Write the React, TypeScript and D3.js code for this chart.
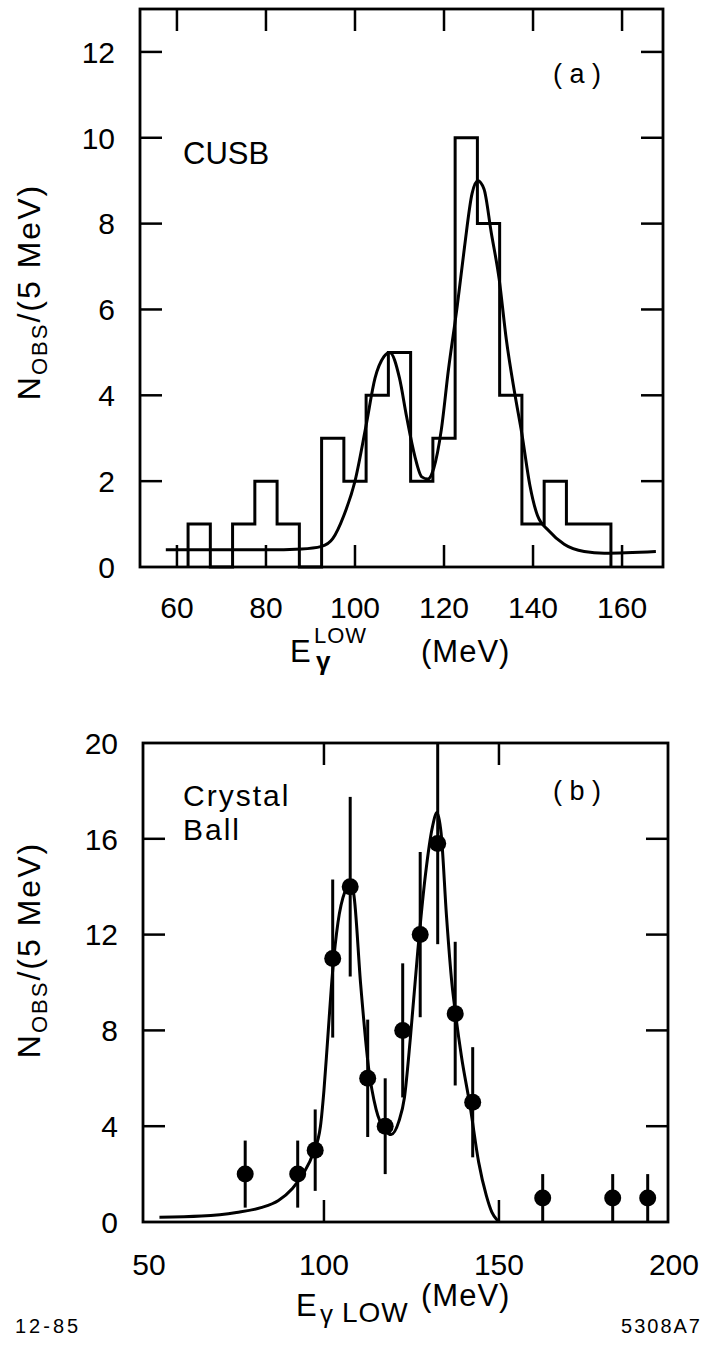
import React, { useRef, useEffect } from "react";
import * as d3 from "d3";

// (a) CUSB histogram, 5 MeV bins
const binCentersA = [65, 70, 75, 80, 85, 90, 95, 100, 105, 110, 115, 120, 125, 130, 135, 140, 145, 150, 155];
const countsA = [1, 0, 1, 2, 1, 0, 3, 2, 4, 5, 2, 3, 10, 8, 4, 1, 2, 1, 1];

// (a) fitted curve
const fitXA = [57.5, 70, 80, 88, 92.5, 95, 97.5, 100, 102.5, 104.5, 106.5, 107.8, 110, 111.6, 113.4, 115, 116.4, 117.7, 119.4, 121, 123, 124.6, 126.3, 127.6, 129, 130.6, 132.4, 134, 135.8, 137.5, 139.3, 141, 143.6, 147, 151.5, 156, 167.6];
const fitYA = [0.4, 0.4, 0.4, 0.42, 0.48, 0.66, 1.2, 2.0, 3.3, 4.4, 4.9, 5.0, 4.4, 3.5, 2.6, 2.1, 2.05, 2.3, 3.2, 4.6, 6.1, 7.45, 8.7, 9.0, 8.8, 7.8, 6.7, 5.3, 4.1, 3.1, 1.9, 1.2, 0.84, 0.53, 0.36, 0.32, 0.36];

const xTicksA = [60, 80, 100, 120, 140, 160];
const yTicksA = [0, 2, 4, 6, 8, 10, 12];

// (b) Crystal Ball points with errors
const ptsXB = [77.5, 92.5, 97.5, 102.5, 107.5, 112.5, 117.5, 122.5, 127.5, 132.5, 137.5, 142.5, 162.5, 182.5, 192.5];
const ptsYB = [2, 2, 3, 11, 14, 6, 4, 8, 12, 15.8, 8.7, 5, 1, 1, 1];
const errB = [1.4, 1.4, 1.7, 3.3, 3.75, 2.45, 2, 2.8, 3.45, 4.2, 3, 2.3, 1, 1, 1];

// (b) fitted curve
const fitXB = [53, 65, 75, 82, 87, 91, 94, 97, 99, 100, 101, 102.5, 104, 106, 107.5, 108.5, 110.5, 112.7, 114.9, 117.6, 119.2, 121.4, 123, 124.7, 126.8, 129, 131, 132.3, 133.5, 135, 136.6, 137.5, 139.3, 141.8, 144.2, 146.4, 148, 149.7, 150];
const fitYB = [0.2, 0.25, 0.4, 0.6, 0.9, 1.4, 2.0, 2.9, 4.0, 5.5, 7.5, 10.5, 12.5, 13.8, 14.1, 13.7, 9.9, 6.5, 4.7, 3.8, 3.65, 4.2, 5.2, 7.7, 11.3, 14.5, 16.5, 17.1, 16.2, 12.8, 9.9, 8.8, 6.9, 4.8, 2.5, 1.1, 0.4, 0.05, 0];

const xLabelsB = [50, 100, 150, 200];
const xTicksB = [100, 150];
const yTicksB = [0, 4, 8, 12, 16, 20];

const FONT = "'Liberation Sans', Arial, sans-serif";
const TICK = 22;

const drawFrame = (
  svg: any,
  x: any,
  y: any,
  xTicks: number[],
  xLabels: number[],
  yTicks: number[],
  labelBase: number
) => {
  const [x0, x1] = x.range();
  const [y0, y1] = y.range(); // y0 bottom, y1 top
  const g = svg.append("g");

  g.append("rect")
    .attr("x", x0)
    .attr("y", y1)
    .attr("width", x1 - x0)
    .attr("height", y0 - y1)
    .attr("fill", "none")
    .attr("stroke", "#000")
    .attr("stroke-width", 2.8);

  const [dx0, dx1] = x.domain();
  const [dy0, dy1] = y.domain();
  const inX = xTicks.filter(v => v > dx0 && v < dx1);
  const inY = yTicks.filter(v => v > dy0 && v < dy1);

  inX.forEach(v => {
    g.append("line").attr("x1", x(v)).attr("x2", x(v)).attr("y1", y0).attr("y2", y0 - TICK);
    g.append("line").attr("x1", x(v)).attr("x2", x(v)).attr("y1", y1).attr("y2", y1 + TICK);
  });
  inY.forEach(v => {
    g.append("line").attr("x1", x0).attr("x2", x0 + TICK).attr("y1", y(v)).attr("y2", y(v));
    g.append("line").attr("x1", x1).attr("x2", x1 - TICK).attr("y1", y(v)).attr("y2", y(v));
  });
  g.selectAll("line").attr("stroke", "#000").attr("stroke-width", 2.5);

  xLabels.forEach(v => {
    g.append("text")
      .attr("x", x(v))
      .attr("y", labelBase)
      .attr("text-anchor", "middle")
      .attr("font-size", 30)
      .text(v);
  });
  yTicks.forEach(v => {
    g.append("text")
      .attr("x", x0 - 25)
      .attr("y", y(v))
      .attr("dy", "0.36em")
      .attr("text-anchor", "end")
      .attr("font-size", 30)
      .text(v);
  });
};

const yTitle = (svg: any, cx: number, cy: number) => {
  const t = svg
    .append("text")
    .attr("transform", `translate(${cx},${cy}) rotate(-90)`)
    .attr("text-anchor", "middle")
    .attr("font-size", 32)
    .attr("letter-spacing", 2);
  t.append("tspan").text("N");
  t.append("tspan").attr("font-size", 22).attr("dy", 7).text("OBS");
  t.append("tspan").attr("dy", -7).text("/(5 MeV)");
};

const App = () => {
  const node: any = useRef();

  useEffect(() => {
    const svg = d3.select(node.current);
    svg.selectAll("*").remove();
    svg.attr("font-family", FONT).attr("fill", "#000");

    // ---------- panel (a)
    const xA = d3.scaleLinear().domain([51.7, 169.2]).range([140, 663]);
    const yA = d3.scaleLinear().domain([0, 13]).range([567, 9]);

    drawFrame(svg, xA, yA, xTicksA, xTicksA, yTicksA, 618);

    const last = binCentersA.length - 1;
    const histPts: [number, number][] = [
      [binCentersA[0] - 2.5, 0],
      ...binCentersA.map((c, i) => [c - 2.5, countsA[i]] as [number, number]),
      [binCentersA[last] + 2.5, countsA[last]],
      [binCentersA[last] + 2.5, 0]
    ];
    const stepLine: any = d3
      .line()
      .x((d: any) => xA(d[0]))
      .y((d: any) => yA(d[1]))
      .curve(d3.curveStepAfter);
    svg
      .append("path")
      .attr("d", stepLine(histPts))
      .attr("fill", "none")
      .attr("stroke", "#000")
      .attr("stroke-width", 3);

    const fitLineA: any = d3
      .line()
      .x((d: any) => xA(d[0]))
      .y((d: any) => yA(d[1]))
      .curve(d3.curveMonotoneX);
    svg
      .append("path")
      .attr("d", fitLineA(fitXA.map((v, i) => [v, fitYA[i]])))
      .attr("fill", "none")
      .attr("stroke", "#000")
      .attr("stroke-width", 3);

    svg.append("text").attr("x", 183).attr("y", 164).attr("font-size", 31).text("CUSB");
    svg
      .append("text")
      .attr("x", 553)
      .attr("y", 83)
      .attr("font-size", 27)
      .attr("xml:space", "preserve")
      .text("( a )");

    yTitle(svg, 40, 292);

    const tA = svg.append("g").attr("font-size", 31);
    tA.append("text").attr("x", 290).attr("y", 662).text("E");
    tA.append("text").attr("x", 314).attr("y", 643).attr("font-size", 22).attr("letter-spacing", 1).text("LOW");
    tA.append("text").attr("x", 316).attr("y", 670).attr("font-size", 26).attr("font-weight", "bold").text("γ");
    tA.append("text").attr("x", 421).attr("y", 662).attr("letter-spacing", 1).text("(MeV)");

    // ---------- panel (b)
    const xB = d3.scaleLinear().domain([48.3, 198.3]).range([143, 668]);
    const yB = d3.scaleLinear().domain([0, 20]).range([1222, 743]);

    drawFrame(svg, xB, yB, xTicksB, xLabelsB, yTicksB, 1275);

    const fitLineB: any = d3
      .line()
      .x((d: any) => xB(d[0]))
      .y((d: any) => yB(d[1]))
      .curve(d3.curveMonotoneX);
    svg
      .append("path")
      .attr("d", fitLineB(fitXB.map((v, i) => [v, fitYB[i]])))
      .attr("fill", "none")
      .attr("stroke", "#000")
      .attr("stroke-width", 3);

    const pts = svg.append("g");
    ptsXB.forEach((v, i) => {
      pts
        .append("line")
        .attr("x1", xB(v))
        .attr("x2", xB(v))
        .attr("y1", yB(Math.max(0, ptsYB[i] - errB[i])))
        .attr("y2", yB(Math.min(20, ptsYB[i] + errB[i])))
        .attr("stroke", "#000")
        .attr("stroke-width", 3);
      pts.append("circle").attr("cx", xB(v)).attr("cy", yB(ptsYB[i])).attr("r", 8.5).attr("fill", "#000");
    });

    svg.append("text").attr("x", 183).attr("y", 806).attr("font-size", 30).attr("letter-spacing", 2).text("Crystal");
    svg.append("text").attr("x", 183).attr("y", 840).attr("font-size", 30).attr("letter-spacing", 2).text("Ball");
    svg
      .append("text")
      .attr("x", 553)
      .attr("y", 800)
      .attr("font-size", 27)
      .attr("xml:space", "preserve")
      .text("( b )");

    yTitle(svg, 40, 950);

    const tB = svg.append("g").attr("font-size", 31);
    tB.append("text").attr("x", 296).attr("y", 1316).text("E");
    tB.append("text").attr("x", 320).attr("y", 1323).attr("font-size", 26).text("γ");
    tB.append("text").attr("x", 342).attr("y", 1322).attr("font-size", 28).attr("letter-spacing", 1).text("LOW");
    tB.append("text").attr("x", 421).attr("y", 1306).attr("letter-spacing", 1).text("(MeV)");

    svg.append("text").attr("x", 15).attr("y", 1333).attr("font-size", 20).attr("letter-spacing", 3).text("12-85");
    svg
      .append("text")
      .attr("x", 702)
      .attr("y", 1333)
      .attr("text-anchor", "end")
      .attr("font-size", 20)
      .attr("letter-spacing", 2)
      .text("5308A7");
  }, []);

  return (
    <svg
      ref={node}
      width={707}
      height={1345}
      style={{ position: "absolute", left: 0, top: 0, background: "#fff" }}
    ></svg>
  );
};

export default App;
